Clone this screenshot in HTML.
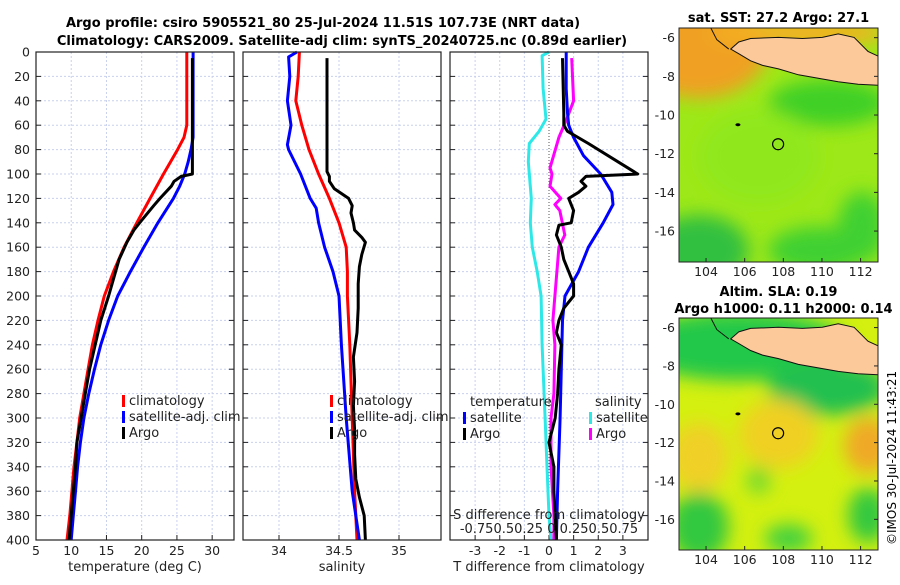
<!DOCTYPE html>
<html><head><meta charset="utf-8"><style>
body{margin:0;background:#fff;}
svg text{font-family:"DejaVu Sans","Liberation Sans",sans-serif;}
</style></head><body>
<svg id="fig" width="900" height="580" xmlns="http://www.w3.org/2000/svg">
<defs>
<filter id="blur" x="-20%" y="-20%" width="140%" height="140%"><feGaussianBlur stdDeviation="9"/></filter>
<clipPath id="c1"><rect x="679" y="28" width="199" height="234"/></clipPath>
<clipPath id="c2"><rect x="679" y="318" width="199" height="232"/></clipPath>
</defs>
<g font-weight="bold" font-size="13" text-anchor="middle">
<text x="323" y="27">Argo profile: csiro 5905521_80 25-Jul-2024 11.51S 107.73E (NRT data)</text>
<text x="342" y="45">Climatology: CARS2009. Satellite-adj clim: synTS_20240725.nc (0.89d earlier)</text>
</g>
<g id="panels"></g>
<g id="maps"></g>
<text font-size="12" transform="translate(896,545) rotate(-90)">©IMOS 30-Jul-2024 11:43:21</text>
</svg>
<script>
const NS='http://www.w3.org/2000/svg';
function mk(tag,attrs,parent,txt){const e=document.createElementNS(NS,tag);for(const k in attrs)e.setAttribute(k,attrs[k]);if(txt!==undefined)e.textContent=txt;parent.appendChild(e);return e;}
const panels=document.getElementById('panels');

// ---- data ----
const depthTicks=[0,20,40,60,80,100,120,140,160,180,200,220,240,260,280,300,320,340,360,380,400];
const tempTicks=[5,10,15,20,25,30];
const salTicks=[34,34.5,35];
const diffTicks=[-3,-2,-1,0,1,2,3];

const climTdep=[0,60,70,80,90,100,120,140,160,180,200,220,240,260,280,300,320,340,360,380,400];
const climT=[26.4,26.4,26,25.1,24.1,23.1,21.2,19.3,17.5,16,14.7,13.8,13,12.4,11.8,11.2,10.8,10.4,10.1,9.8,9.4];
const satTdep=[0,70,80,90,100,110,120,140,160,180,200,220,240,260,280,300,320,340,360,380,400];
const satT=[27.3,27.3,27,26.6,26.1,25.4,24.5,22.3,20.3,18.4,16.6,15.3,14.2,13.3,12.5,11.8,11.3,10.9,10.6,10.3,10];
const argoTdep=[5,60,100,102,106,110,120,126,140,146,156,170,180,200,220,240,260,280,300,320,340,360,380,400];
const argoT=[27.2,27.2,27.2,25.6,24.6,24.2,22.6,21.7,19.7,18.9,17.9,16.8,16.3,15.3,14.2,13.4,12.6,12,11.4,10.8,10.6,10.3,10,9.7];

const climSdep=[0,20,40,60,80,100,120,140,160,180,200,240,300,360,400];
const climS=[34.17,34.16,34.14,34.19,34.25,34.33,34.42,34.5,34.56,34.57,34.57,34.59,34.61,34.63,34.65];
const satSdep=[0,4,20,40,60,76,80,100,120,128,140,160,180,200,240,300,360,400];
const satS=[34.15,34.08,34.09,34.07,34.1,34.07,34.08,34.18,34.26,34.31,34.33,34.38,34.45,34.5,34.52,34.56,34.61,34.67];
const argoSdep=[5,98,102,106,112,120,126,132,140,146,152,156,166,176,190,210,230,250,270,290,310,330,350,365,380,400];
const argoS=[34.4,34.4,34.42,34.42,34.46,34.58,34.61,34.6,34.62,34.63,34.69,34.72,34.69,34.67,34.66,34.66,34.65,34.62,34.63,34.62,34.63,34.63,34.64,34.67,34.71,34.72];

const dSatTdep=[0,30,50,60,70,85,100,115,125,140,160,180,200,220,260,300,360,400];
const dSatT=[0.7,0.7,0.75,0.8,1.0,1.4,2.1,2.55,2.6,2.2,1.6,1.2,0.65,0.55,0.5,0.45,0.35,0.3];
const dArgoTdep=[5,50,60,65,75,90,100,102,106,110,115,120,130,140,142,150,160,170,180,190,200,210,220,230,240,260,280,300,320,340,360,380,400];
const dArgoT=[0.55,0.6,0.6,0.75,1.6,2.8,3.6,1.5,1.3,1.5,1.2,0.8,1.0,0.9,0.4,0.3,0.5,0.6,0.8,1.0,1.0,0.6,0.4,0.3,0.5,0.4,0.35,0.25,0.0,0.2,0.2,0.25,0.3];
const dSatSdep=[0,3,30,55,65,75,90,120,140,160,180,200,240,300,340,380,400];
const dSatS=[0.0,-0.07,-0.06,-0.03,-0.1,-0.2,-0.21,-0.18,-0.19,-0.17,-0.12,-0.08,-0.07,-0.04,-0.02,0.0,0.02];
const dArgoSdep=[5,40,55,70,95,100,110,120,125,130,150,160,180,200,220,240,280,300,340,380,400];
const dArgoS=[0.23,0.25,0.18,0.1,0.01,0.03,0.01,0.12,0.06,0.11,0.16,0.1,0.08,0.06,0.04,0.06,0.05,0.02,0.02,0.05,0.05];

// ---- axes ----
const Y0=52,Y1=540;
const yScale=d=>Y0+(d/400)*(Y1-Y0);
function xs(x0,x1,v0,v1){return v=>x0+(v-v0)/(v1-v0)*(x1-x0);}

function panel(name,x0,x1,ticks,xsc,xlabel,zeroDotted){
  const g=mk('g',{},panels);
  
  
  depthTicks.forEach(d=>{const l=mk('line',{x1:x0,x2:x1,y1:yScale(d),y2:yScale(d),stroke:'#c8d0ee','stroke-width':1,'stroke-dasharray':'2,2'},g);
    mk('line',{x1:x0,x2:x0+5,y1:yScale(d),y2:yScale(d),stroke:'#222'},g);mk('line',{x1:x1-5,x2:x1,y1:yScale(d),y2:yScale(d),stroke:'#222'},g);});
  ticks.forEach(t=>{const x=xsc(t);
    const l=mk('line',{x1:x,x2:x,y1:Y0,y2:Y1,stroke:(zeroDotted&&t===0)?'#555':'#c8d0ee','stroke-width':1,'stroke-dasharray':(zeroDotted&&t===0)?'1,2':'2,2'},g);
    
    mk('line',{x1:x,x2:x,y1:Y1,y2:Y1-5,stroke:'#222'},g);
    const tx=mk('text',{x:x,y:555,'font-size':12.5,'text-anchor':'middle',fill:'#222'},g,String(t));
    });
  const xl=mk('text',{x:(x0+x1)/2,y:571,'font-size':13,'text-anchor':'middle',fill:'#222'},g,xlabel);
  
  return g;
}
function line(g,name,xsc,vals,deps,color){
  const pts=vals.map((v,i)=>xsc(v).toFixed(1)+','+yScale(deps[i]).toFixed(1)).join(' ');
  const p=mk('polyline',{points:pts,fill:'none',stroke:color,'stroke-width':3,'stroke-linejoin':'round'},g);
  
  
}
function frame(g,x0,x1){const r=mk('rect',{x:x0,y:Y0,width:x1-x0,height:Y1-Y0,fill:'none',stroke:'#222','stroke-width':1.2},g);}
function legend(g,x,y,items){items.forEach((it,i)=>{mk('rect',{x:x,y:y+i*16-10,width:3,height:12,fill:it[1]},g);
  const t=mk('text',{x:x+7,y:y+i*16,'font-size':13,fill:'#222'},g,it[0]);});}

const tx=xs(36,234,5,33.1);
const g1=panel('temperature-panel',36,234,tempTicks,tx,'temperature (deg C)');
depthTicks.forEach(d=>{const t=mk('text',{x:30,y:yScale(d)+4.5,'font-size':12.5,'text-anchor':'end',fill:'#222'},g1,String(d));});
line(g1,'temp-climatology-line',tx,climT,climTdep,'#f00');
line(g1,'temp-satellite-line',tx,satT,satTdep,'#00f');
line(g1,'temp-argo-line',tx,argoT,argoTdep,'#000');
frame(g1,36,234);
legend(g1,122,405,[['climatology','#f00'],['satellite-adj. clim','#00f'],['Argo','#000']]);

const sx=xs(243,441,33.7,35.35);
const g2=panel('salinity-panel',243,441,salTicks,sx,'salinity');
line(g2,'sal-climatology-line',sx,climS,climSdep,'#f00');
line(g2,'sal-satellite-line',sx,satS,satSdep,'#00f');
line(g2,'sal-argo-line',sx,argoS,argoSdep,'#000');
frame(g2,243,441);
legend(g2,330,405,[['climatology','#f00'],['satellite-adj. clim','#00f'],['Argo','#000']]);

const dx=xs(450,648,-4.02,4.02);
const sdx=xs(450,648,-1.005,1.005);
const g3=panel('difference-panel',450,648,diffTicks,dx,'T difference from climatology',true);
line(g3,'sdiff-satellite-line',sdx,dSatS,dSatSdep,'#2ee8e8');
line(g3,'sdiff-argo-line',sdx,dArgoS,dArgoSdep,'#f0f');
line(g3,'tdiff-satellite-line',dx,dSatT,dSatTdep,'#00f');
line(g3,'tdiff-argo-line',dx,dArgoT,dArgoTdep,'#000');
frame(g3,450,648);
mk('text',{x:470,y:406,'font-size':13,fill:'#222'},g3,'temperature');
mk('text',{x:595,y:406,'font-size':13,fill:'#222'},g3,'salinity');
legend(g3,463,422,[['satellite','#00f'],['Argo','#000']]);
legend(g3,589,422,[['satellite','#2ee8e8'],['Argo','#f0f']]);
mk('text',{x:549,y:519,'font-size':13,'text-anchor':'middle',fill:'#222'},g3,'S difference from climatology');
mk('text',{x:549,y:533,'font-size':13,'text-anchor':'middle',fill:'#222'},g3,'-0.750.50.25 0 0.250.50.75');

// ---- maps ----
const maps=document.getElementById('maps');
const lonTicks=[104,106,108,110,112];
const latTicks=[-6,-8,-10,-12,-14,-16];
function map(name,y0,h,title1,title2,blobs,bg,clip){
  const x0=679,w=199;
  const g=mk('g',{},maps);
  
  
  const lx=l=>x0+(l-102.6)/(112.9-102.6)*w;
  const ly=l=>y0+(-5.5-l)/(17.6-5.5)*h;
  const cg=mk('g',{'clip-path':'url(#'+clip+')'},g);
  mk('rect',{x:x0,y:y0,width:w,height:h,fill:bg},cg);
  const bg2=mk('g',{filter:'url(#blur)'},cg);
  blobs.forEach(b=>mk('ellipse',{cx:x0+b[0]*w,cy:y0+b[1]*h,rx:b[2]*w,ry:b[3]*h,fill:b[4]},bg2));
  const land=[[0.3,0.06],[0.36,0.045],[0.5,0.04],[0.62,0.045],[0.72,0.04],[0.8,0.025],[0.88,0.04],[0.95,0.1],[1,0.12],[1,0.245],[0.9,0.24],[0.8,0.23],[0.7,0.215],[0.6,0.2],[0.5,0.175],[0.42,0.16],[0.36,0.14],[0.3,0.11],[0.26,0.09]];
  const pts=land.map(p=>(x0+p[0]*w).toFixed(1)+','+(y0+p[1]*h).toFixed(1)).join(' ');
  const ld=mk('polygon',{points:pts,fill:'#fbc99a',stroke:'#111','stroke-width':1},cg);
  
  mk('polyline',{points:[[0.16,0],[0.19,0.05],[0.25,0.09]].map(p=>(x0+p[0]*w)+','+(y0+p[1]*h)).join(' '),fill:'none',stroke:'#111','stroke-width':1},cg);
  mk('ellipse',{cx:lx(105.65),cy:ly(-10.5),rx:2.5,ry:1.5,fill:'#000'},cg);
  const c=mk('circle',{cx:lx(107.73),cy:ly(-11.51),r:5.5,fill:'none',stroke:'#000','stroke-width':1.2},cg);
  
  mk('rect',{x:x0,y:y0,width:w,height:h,fill:'none',stroke:'#222'},g);
  lonTicks.forEach(l=>{mk('line',{x1:lx(l),x2:lx(l),y1:y0+h,y2:y0+h-4,stroke:'#222'},g);
    const t=mk('text',{x:lx(l),y:y0+h+14,'font-size':12.5,'text-anchor':'middle',fill:'#222'},g,String(l));});
  latTicks.forEach(l=>{mk('line',{x1:x0+w,x2:x0+w-4,y1:ly(l),y2:ly(l),stroke:'#222'},g);
    const t=mk('text',{x:x0-4,y:ly(l)+4.5,'font-size':12.5,'text-anchor':'end',fill:'#222'},g,String(l));});
  mk('text',{x:x0+w/2,y:title2?y0-22:y0-6,'font-size':13,'font-weight':'bold','text-anchor':'middle'},g,title1);
  if(title2)mk('text',{x:x0+w/2+5,y:y0-5,'font-size':13,'font-weight':'bold','text-anchor':'middle'},g,title2);
}
map('sst-map',28,234,'sat. SST: 27.2 Argo: 27.1',null,
 [[0.1,0.08,0.35,0.22,'#f0a020'],[0.6,0.02,0.45,0.06,'#f4b020'],[0.75,0.32,0.3,0.1,'#40d028'],[0.1,0.95,0.25,0.15,'#30c040'],[0.7,0.95,0.25,0.1,'#40d030'],[0.92,0.85,0.12,0.15,'#40d030'],[0.4,0.55,0.3,0.2,'#90e81a']],'#9de818','c1');
map('sla-map',318,232,'Altim. SLA: 0.19','Argo h1000: 0.11 h2000: 0.14',
 [[0.3,0.12,0.55,0.15,'#20c848'],[0.75,0.3,0.3,0.12,'#20c050'],[0.5,0.5,0.2,0.15,'#f0d020'],[0.95,0.55,0.12,0.12,'#f0a828'],[0.1,0.9,0.15,0.15,'#30c840'],[0.95,0.85,0.1,0.12,'#30c840'],[0.55,0.95,0.12,0.06,'#40d040'],[0.4,0.7,0.06,0.06,'#70d830'],[0.1,0.6,0.15,0.15,'#f0d028']],'#d4f010','c2');
</script>
</body></html>
